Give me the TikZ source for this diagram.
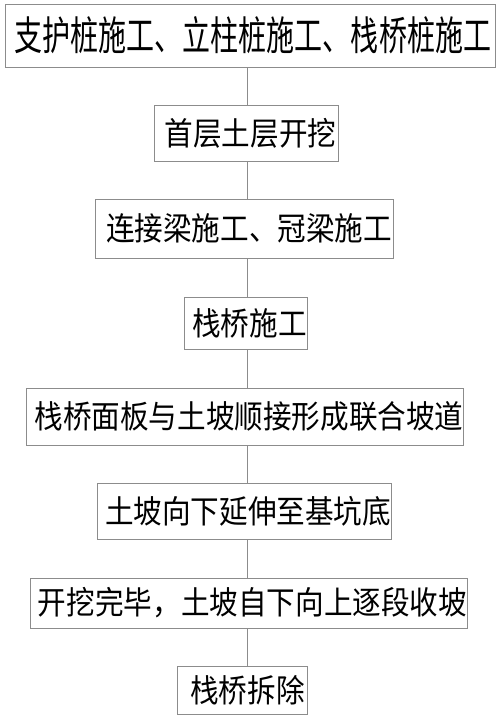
\documentclass[tikz,border=0pt]{standalone}
\usepackage{fontspec}
\newfontfamily\cjk{Noto Sans CJK SC}
\definecolor{edge}{RGB}{140,140,140}
\begin{document}
\begin{tikzpicture}[x=1pt,y=-1pt,
  box/.style={draw=edge,line width=0.9pt,inner sep=0pt,font=\cjk\fontsize{28.6pt}{30pt}\selectfont},
  conn/.style={draw=edge,line width=0.9pt}]
\useasboundingbox (0,0) rectangle (500,720);
\newcommand{\tx}[2]{\hspace*{#1pt}\scalebox{1}[1.12]{#2}}
\node[box,minimum width=490pt,minimum height=63pt,text width=490pt,align=center] (b1) at (250,35.5) {\hspace*{6pt}\resizebox{476pt}{34pt}{支护桩施工、立柱桩施工、栈桥桩施工}};
\node[box,minimum width=184pt,minimum height=56pt] (b2) at (246,133) {\tx{9}{首层土层开挖}};
\node[box,minimum width=298pt,minimum height=59pt] (b3) at (244,228.5) {\tx{10}{连接梁施工、冠梁施工}};
\node[box,minimum width=123pt,minimum height=52pt] (b4) at (245.5,323) {\tx{8}{栈桥施工}};
\node[box,minimum width=432pt,minimum height=57pt] (b5) at (245,416.5) {\tx{8}{栈桥面板与土坡顺接形成联合坡道}};
\node[box,minimum width=294pt,minimum height=56pt] (b6) at (244,511) {\tx{8}{土坡向下延伸至基坑底}};
\node[box,minimum width=435pt,minimum height=50pt] (b7) at (248.5,603) {\tx{8}{开挖完毕，土坡自下向上逐段收坡}};
\node[box,minimum width=130pt,minimum height=48pt] (b8) at (242,690) {\tx{11}{栈桥拆除}};
\coordinate (ax) at (247,0);
\foreach \a/\b in {b1/b2,b2/b3,b3/b4,b4/b5,b5/b6,b6/b7,b7/b8}
  \draw[conn] (\a.south -| ax) -- (\b.north -| ax);
\end{tikzpicture}
\end{document}
